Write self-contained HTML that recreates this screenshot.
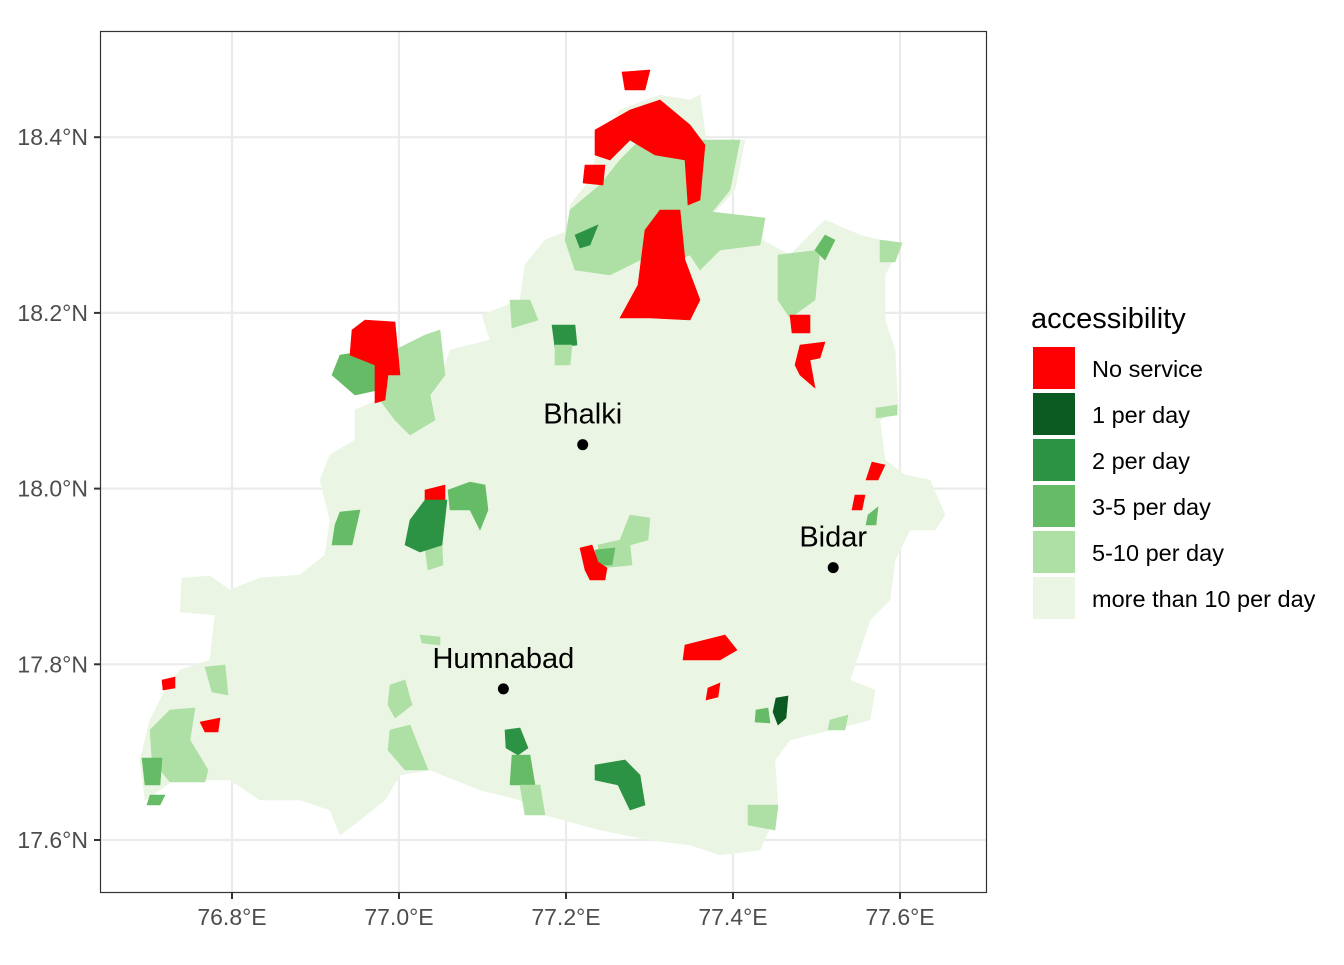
<!DOCTYPE html>
<html><head><meta charset="utf-8"><style>
body{margin:0;background:#fff;font-family:"Liberation Sans",Arial,sans-serif}
</style></head><body>
<svg id="chart" width="1344" height="960" xmlns="http://www.w3.org/2000/svg" font-family="Liberation Sans, Arial, sans-serif">
<rect x="0" y="0" width="1344" height="960" fill="#fff"/>
<g id="grid"></g>
<g id="map"></g>
<g id="cities"></g>
<rect x="100.5" y="31.5" width="886" height="861" fill="none" stroke="#333" stroke-width="1.2"/>
<g id="axes"></g>
<g id="legend"></g>
</svg>
<script>
const lonTicks=[76.8,77.0,77.2,77.4,77.6];
const latTicks=[17.6,17.8,18.0,18.2,18.4];
const cityNames=["Bhalki","Bidar","Humnabad"];
const cityLon=[77.22,77.52,77.125];
const cityLat=[18.05,17.91,17.772];
const legendLabels=["No service","1 per day","2 per day","3-5 per day","5-10 per day","more than 10 per day"];
const legendColors=["#FF0000","#0B5A22","#2C9344","#66BB66","#AEDFA5","#EAF6E3"];

const xS=lon=>232+(lon-76.8)*835;
const yS=lat=>840-(lat-17.6)*878.5;
const NS="http://www.w3.org/2000/svg";
function mk(tag,attrs,parent){const e=document.createElementNS(NS,tag);for(const k in attrs)e.setAttribute(k,attrs[k]);parent.appendChild(e);return e;}
const grid=document.getElementById('grid'),axes=document.getElementById('axes');
lonTicks.forEach(v=>{const x=xS(v);
 const l=mk('line',{x1:x,x2:x,y1:31,y2:892,stroke:'#EBEBEB','stroke-width':2.2},grid);
 
 const t=mk('line',{x1:x,x2:x,y1:893,y2:899,stroke:'#333','stroke-width':2},axes);
 
 const tx=mk('text',{x:x,y:925,'text-anchor':'middle','font-size':23,fill:'#4D4D4D'},axes);
 tx.textContent=v.toFixed(1)+'°E';});
latTicks.forEach(v=>{const y=yS(v);
 const l=mk('line',{x1:100,x2:986,y1:y,y2:y,stroke:'#EBEBEB','stroke-width':2.2},grid);
 
 const t=mk('line',{x1:94,x2:100,y1:y,y2:y,stroke:'#333','stroke-width':2},axes);
 
 const tx=mk('text',{x:88,y:y+8,'text-anchor':'end','font-size':23,fill:'#4D4D4D'},axes);
 tx.textContent=v.toFixed(1)+'°N';});

const map=document.getElementById('map');
const C=legendColors;
const shapes=[
 [5,"700,95 706,140 745,140 735,190 712,215 765,218 762,240 790,255 825,220 860,235 880,240 902,243 885,275 885,320 895,350 898,410 880,420 885,460 905,475 930,480 945,515 935,530 910,530 895,560 890,600 870,620 860,650 850,680 875,690 870,720 830,730 790,740 775,760 778,810 760,850 720,855 690,845 650,840 600,830 545,815 520,800 480,790 455,780 430,770 400,775 385,800 360,820 340,835 330,810 300,800 260,800 230,780 208,780 180,775 160,790 145,800 140,760 150,720 165,690 180,670 210,660 215,615 180,612 182,578 210,576 230,590 260,578 300,575 325,555 330,520 320,480 330,455 355,440 355,410 378,400 420,390 440,380 450,350 490,340 482,315 520,300 525,265 545,240 570,230 570,205 590,180 600,140 620,110 660,95 690,100"],
 [4,"570,210 600,185 620,160 650,130 700,140 740,140 730,190 712,212 765,218 760,245 720,250 700,270 690,255 650,270 640,260 610,275 575,270 565,240"],
 [0,"595,130 630,110 660,100 690,125 705,145 700,200 688,205 685,160 655,155 630,140 610,160 595,155"],
 [0,"622,72 650,70 645,90 625,90"],
 [0,"645,230 660,210 680,210 685,260 700,300 690,320 650,318 620,318 638,285"],
 [0,"585,165 605,165 603,185 583,183"],
 [2,"575,235 598,225 590,245 580,248"],
 [4,"395,350 425,335 440,330 445,375 430,395 435,420 410,435 395,420 380,400 385,370"],
 [3,"340,355 375,350 378,390 355,395 332,375"],
 [0,"352,330 365,320 395,322 400,375 388,375 385,400 375,403 375,365 350,355"],
 [4,"778,255 820,250 815,300 790,318 778,300"],
 [3,"815,250 825,235 835,240 825,260"],
 [0,"790,315 810,315 810,333 792,333"],
 [0,"800,345 825,342 820,358 810,360 815,388 800,375 795,365"],
 [2,"552,325 575,325 577,345 555,348"],
 [4,"555,345 572,345 570,365 555,365"],
 [4,"510,300 530,300 538,320 512,328"],
 [0,"425,490 445,485 445,500 425,502"],
 [3,"448,490 470,482 485,485 488,510 480,530 470,510 450,510"],
 [4,"425,548 442,545 443,565 428,570"],
 [2,"410,520 425,500 447,500 442,545 420,552 405,545"],
 [3,"335,525 340,512 360,510 352,545 332,545"],
 [4,"598,545 620,540 630,515 650,518 648,540 630,545 632,565 600,568"],
 [3,"595,550 615,548 612,565 598,565"],
 [0,"580,548 592,545 598,562 607,568 605,580 590,580 585,570"],
 [0,"872,462 885,465 878,480 866,480"],
 [0,"855,495 865,495 862,510 852,510"],
 [3,"868,515 878,507 876,525 866,525"],
 [4,"876,408 897,405 897,415 876,418"],
 [4,"880,240 902,243 895,262 880,262"],
 [0,"685,645 725,635 737,650 720,660 683,660"],
 [0,"708,688 720,683 718,697 706,700"],
 [1,"776,698 788,696 786,718 778,725 773,712"],
 [3,"756,710 768,708 770,723 755,722"],
 [4,"830,720 848,715 845,730 828,730"],
 [4,"748,805 778,805 775,830 748,825"],
 [2,"505,730 520,728 528,748 518,755 506,748"],
 [3,"512,755 530,755 535,785 510,785"],
 [4,"520,785 540,785 545,815 525,815"],
 [2,"595,765 625,760 640,775 645,805 630,810 618,785 595,780"],
 [4,"390,685 405,680 412,705 395,718 388,705"],
 [4,"390,730 410,725 428,770 405,770 388,750"],
 [4,"420,635 440,637 440,645 422,643"],
 [4,"150,730 170,710 195,708 190,740 208,770 205,782 170,782 152,760"],
 [3,"142,758 162,758 160,785 145,785"],
 [3,"150,795 165,795 160,805 147,805"],
 [0,"162,680 175,677 175,688 163,690"],
 [0,"200,722 220,718 218,732 205,732"],
 [4,"205,667 225,665 228,695 212,692"]
];
shapes.forEach(s=>{const p=mk('polygon',{points:s[1],fill:C[s[0]],stroke:C[s[0]],'stroke-width':0.6},map);
 
 });

const cities=document.getElementById('cities');
cityNames.forEach((n,i)=>{const x=xS(cityLon[i]),y=yS(cityLat[i]);
 const c=mk('circle',{cx:x,cy:y,r:5.5,fill:'#000'},cities);
 
 const t=mk('text',{x:x,y:y-21,'text-anchor':'middle','font-size':29,fill:'#000'},cities);
 t.textContent=n;});

const lg=document.getElementById('legend');
const lt=mk('text',{x:1031,y:328,'font-size':29,fill:'#000'},lg);
lt.textContent='accessibility';
legendLabels.forEach((lab,i)=>{const y=347+i*46;
 const r=mk('rect',{x:1033,y:y,width:42,height:42,fill:legendColors[i]},lg);
 
 const t=mk('text',{x:1092,y:y+30,'font-size':23.5,fill:'#000'},lg);
 t.textContent=lab;});
</script>
</body></html>
